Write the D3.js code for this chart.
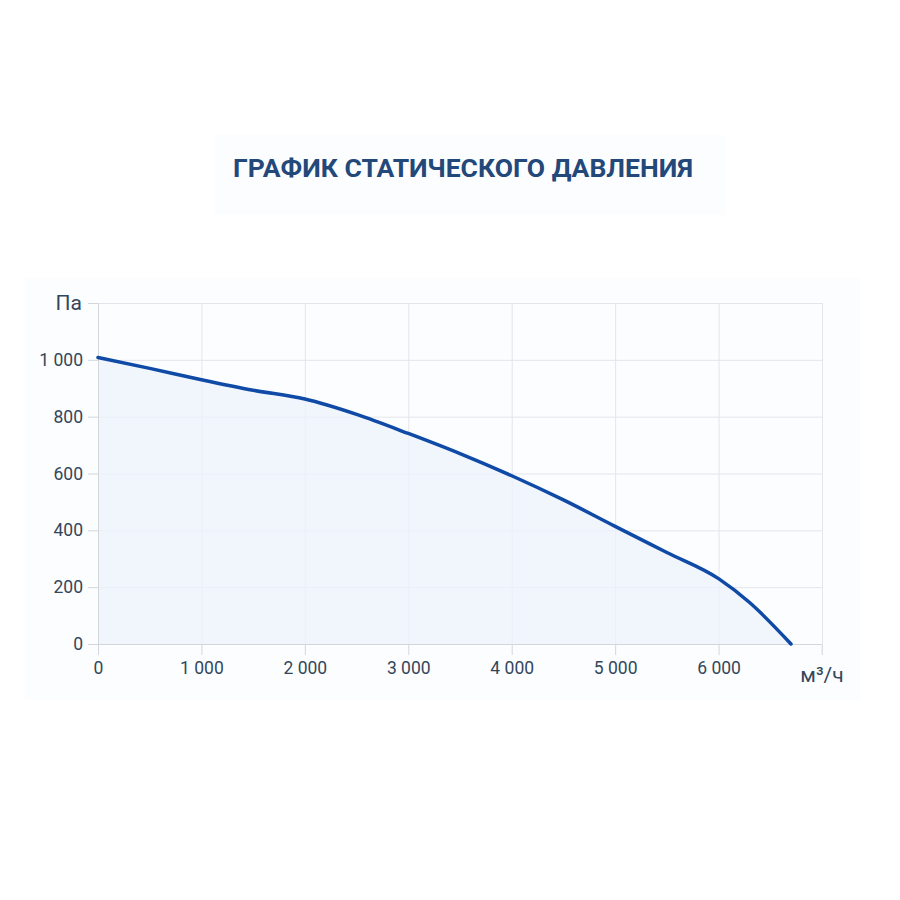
<!DOCTYPE html>
<html>
<head>
<meta charset="utf-8">
<script src="https://cdn.jsdelivr.net/npm/d3@7"></script>
<style>
  body { margin: 0; background: #fff; }
  text { font-family: Roboto, "Noto Sans", sans-serif; }
</style>
</head>
<body>
<div id="canvas"></div>
<script>
// расход, м³/ч и статическое давление, Па
const flow = [0, 500, 1000, 1500, 2000, 2500, 3000, 3500, 4000, 4500, 5000, 5500, 6000, 6300, 6700];
const pressure = [1008, 970, 930, 893, 862, 808, 741, 670, 592, 507, 414, 322, 230, 146, 0];
const xTicks = [0, 1000, 2000, 3000, 4000, 5000, 6000, 7000];
const yTicks = [0, 200, 400, 600, 800, 1000, 1200];
const title = "ГРАФИК СТАТИЧЕСКОГО ДАВЛЕНИЯ";
const xUnit = "м³/ч";
const yUnit = "Па";

const width = 900;
const height = 900;
const margin = { top: 303, left: 98, bottom: 256, right: 78 };
const iwidth = width - margin.left - margin.right;
const iheight = height - margin.top - margin.bottom;

const svg = d3.select("#canvas").append("svg")
    .attr("width", width)
    .attr("height", height);

// едва заметные подложки
svg.append("rect")
    .attr("x", 25).attr("y", 278).attr("width", 835).attr("height", 422)
    .style("fill", "#fcfdfe");
svg.append("rect")
    .attr("x", 215).attr("y", 135).attr("width", 510).attr("height", 80)
    .style("fill", "#fcfdfe");

svg.append("text")
    .attr("x", 463)
    .attr("y", 177)
    .attr("text-anchor", "middle")
    .style("font-size", "26.5px")
    .style("font-weight", "bold")
    .style("fill", "#23487a")
    .text(title);

const g = svg.append("g").attr("transform", `translate(${margin.left},${margin.top})`);

const x = d3.scaleLinear().domain([0, 7000]).range([0, iwidth]);
const y = d3.scaleLinear().domain([0, 1200]).range([iheight, 0]);
const fmt = v => d3.format(",")(v).replace(/,/g, " ");

// сетка
g.append("g")
    .attr("transform", `translate(0, ${iheight})`)
    .call(d3.axisBottom(x).tickValues(xTicks).tickSize(-iheight).tickFormat(""))
    .call(a => a.select(".domain").remove())
    .selectAll("line").style("stroke", "#e3e5ea");
g.append("g")
    .call(d3.axisLeft(y).tickValues(yTicks).tickSize(-iwidth).tickFormat(""))
    .call(a => a.select(".domain").remove())
    .selectAll("line").style("stroke", "#e3e5ea");

const data = flow.map((f, i) => ({ f: f, p: pressure[i] }));

g.append("path")
    .datum(data)
    .attr("d", d3.area().x(d => x(d.f)).y0(iheight).y1(d => y(d.p)).curve(d3.curveMonotoneX))
    .style("fill", "#eef3fb")
    .style("opacity", 0.8);

// оси
const xAxis = g.append("g")
    .attr("transform", `translate(0, ${iheight})`)
    .call(d3.axisBottom(x).tickValues(xTicks.slice(0, -1)).tickSize(11).tickPadding(7).tickFormat(fmt));
const yAxis = g.append("g")
    .call(d3.axisLeft(y).tickValues(yTicks.slice(0, -1)).tickSize(10).tickPadding(5).tickFormat(fmt));
[xAxis, yAxis].forEach(a => {
    a.select(".domain").style("stroke", "#d3d6dc");
    a.selectAll("line").style("stroke", "#d3d6dc");
    a.selectAll("text").style("font-size", "17.5px").style("fill", "#33475b")
        .style("font-family", "Roboto, sans-serif");
});
// засечка под правой линией сетки
g.append("line")
    .attr("x1", x(7000)).attr("x2", x(7000))
    .attr("y1", iheight).attr("y2", iheight + 11)
    .style("stroke", "#e3e5ea");

g.append("path")
    .datum(data)
    .attr("d", d3.line().x(d => x(d.f)).y(d => y(d.p)).curve(d3.curveMonotoneX))
    .style("fill", "none")
    .style("stroke", "#0f4aa6")
    .style("stroke-width", 3.5)
    .style("stroke-linecap", "round");

g.append("text")
    .attr("x", -16)
    .attr("y", y(1200) + 7)
    .attr("text-anchor", "end")
    .style("font-size", "21px")
    .style("fill", "#33475b")
    .text(yUnit);

g.append("text")
    .attr("x", x(7000))
    .attr("y", iheight + 38)
    .attr("text-anchor", "middle")
    .style("font-size", "21px")
    .style("fill", "#33475b")
    .text(xUnit);
</script>
</body>
</html>
